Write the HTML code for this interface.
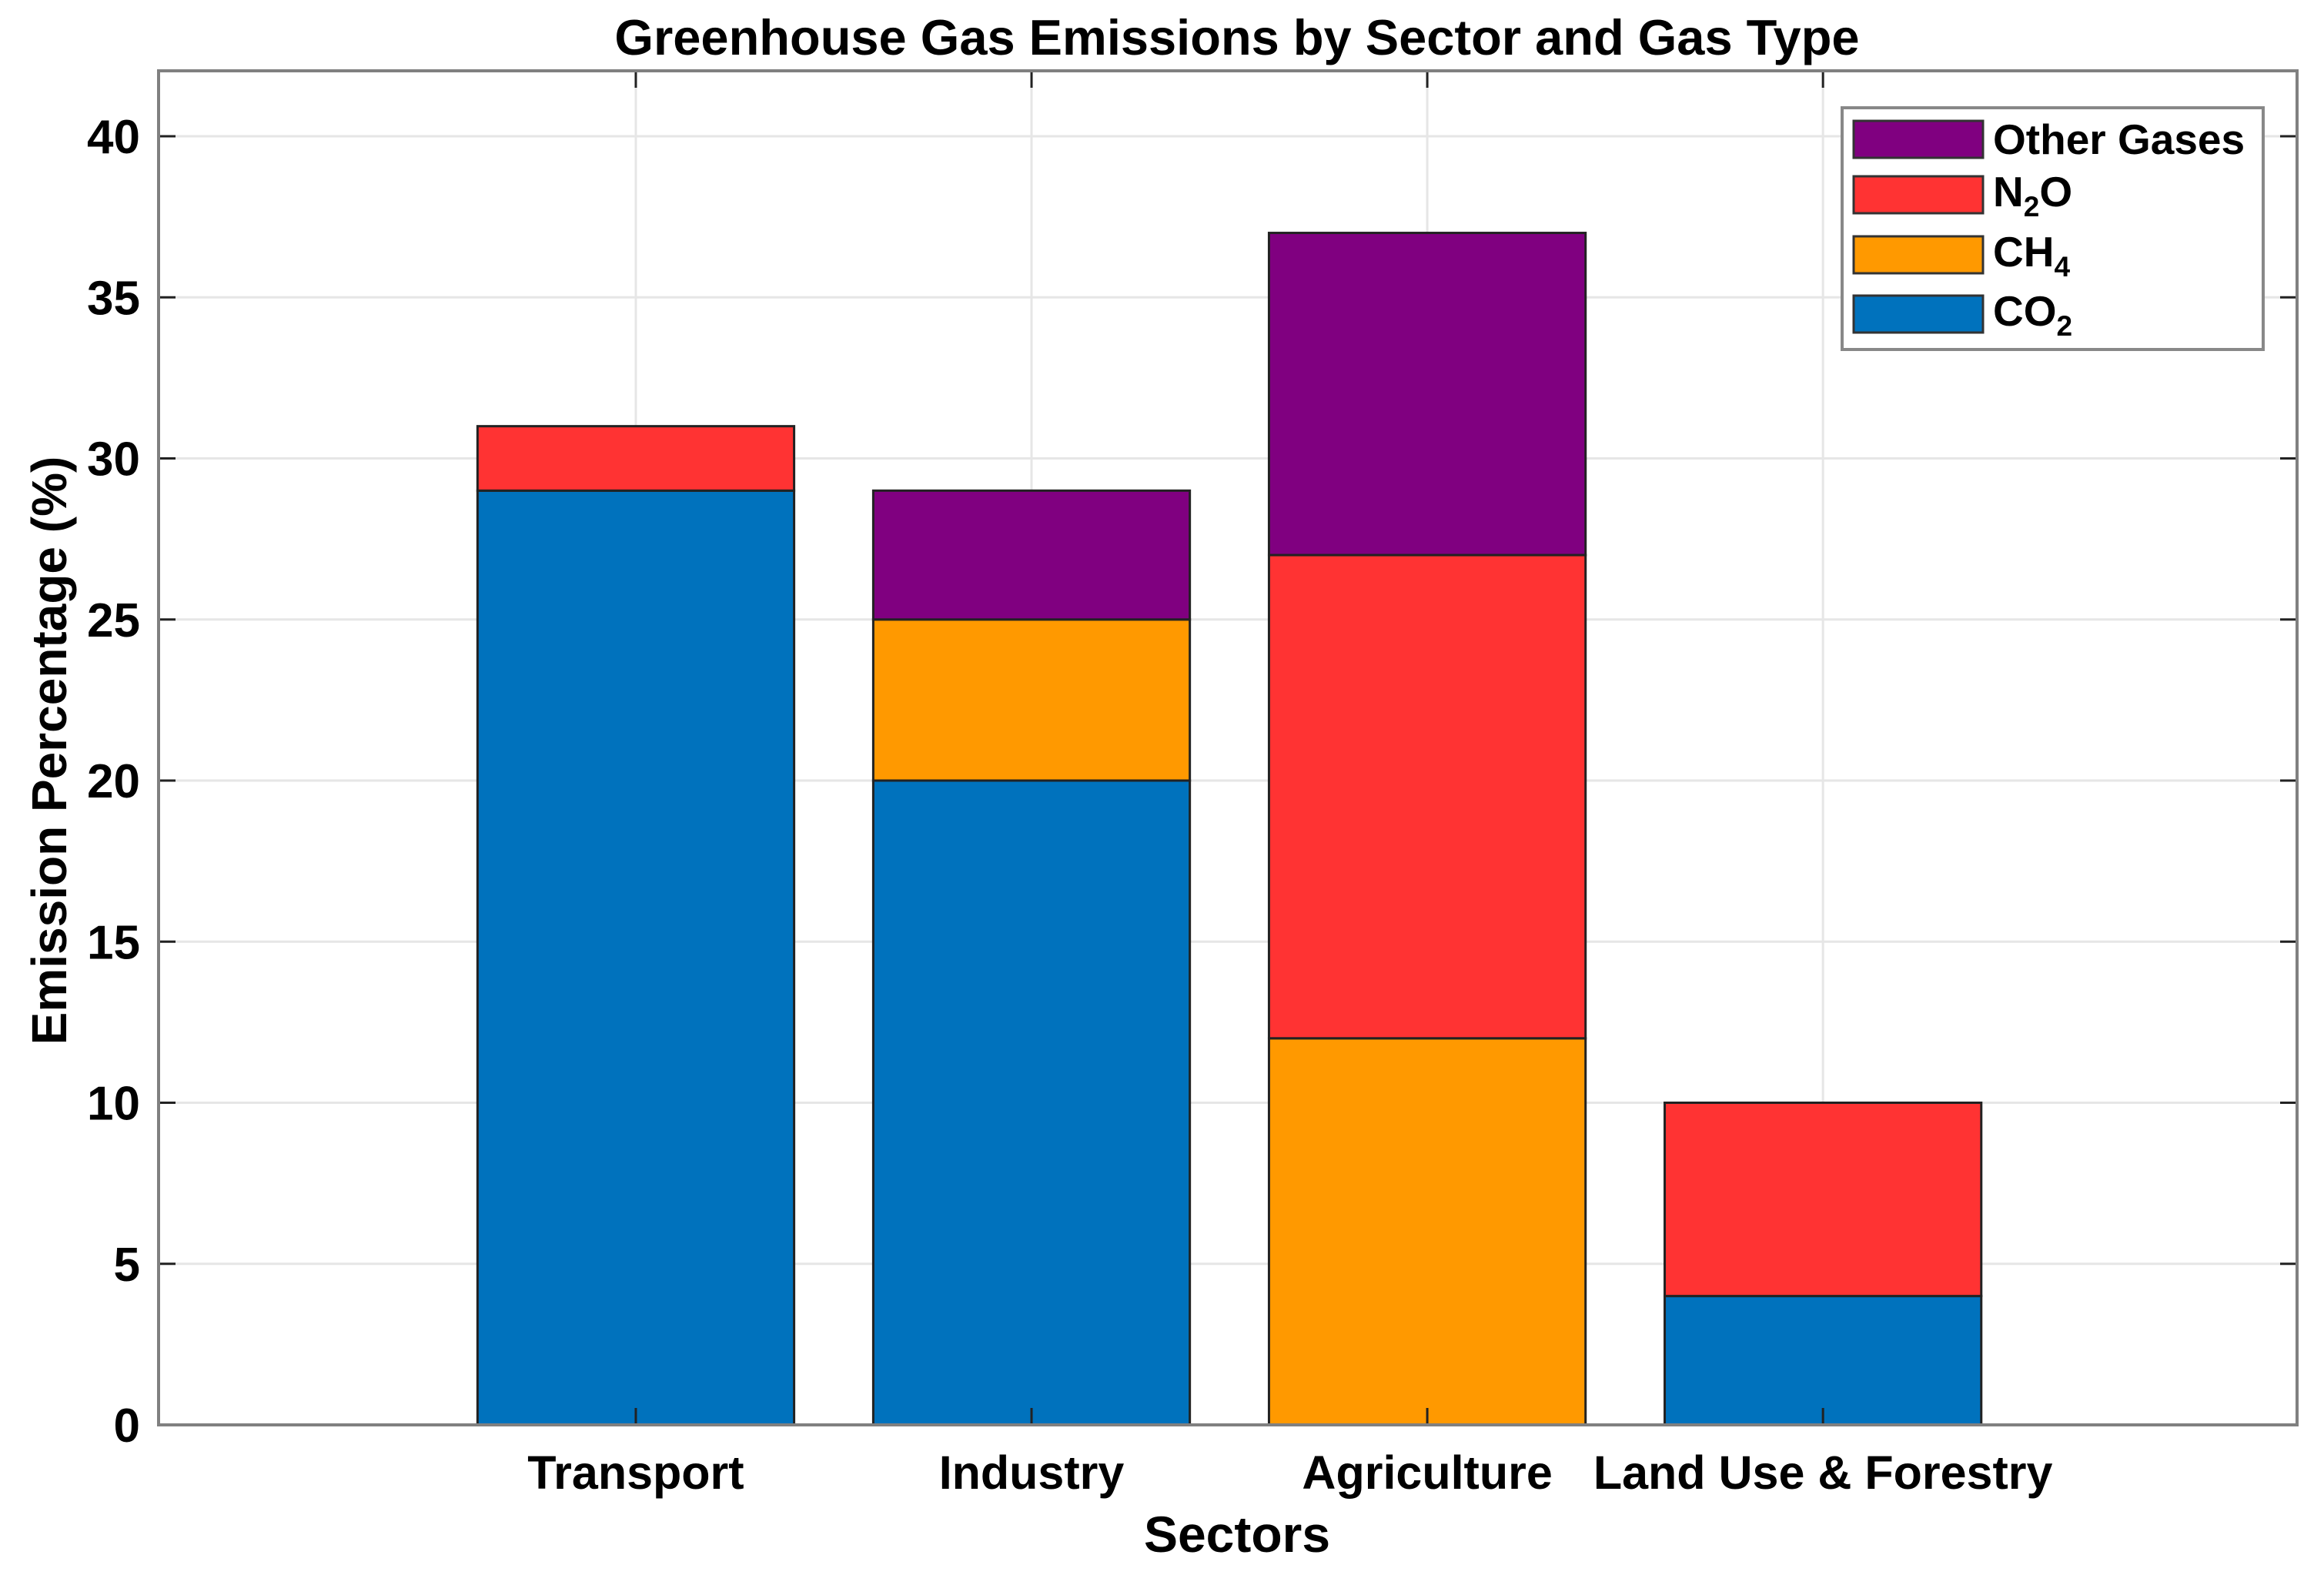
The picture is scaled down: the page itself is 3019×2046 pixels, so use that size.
<!DOCTYPE html>
<html><head><meta charset="utf-8"><style>
html,body{margin:0;padding:0;background:#fff;}
svg{display:block;font-family:"Liberation Sans",Arial,sans-serif;font-weight:bold;}
</style></head><body>
<svg id="chart" width="3019" height="2046" viewBox="0 0 3019 2046" xmlns="http://www.w3.org/2000/svg">
<rect x="0" y="0" width="3019" height="2046" fill="#fff"/>
<g id="grid"></g>
<g id="bars"></g>
<g id="axes"></g>
<text x="1607" y="71" font-size="65" text-anchor="middle">Greenhouse Gas Emissions by Sector and Gas Type</text>
<text x="1607" y="2016" font-size="66" text-anchor="middle">Sectors</text>
<text transform="translate(86,975) rotate(-90)" font-size="64" text-anchor="middle">Emission Percentage (%)</text>
<g>
<rect x="2393" y="140" width="547" height="314" fill="#fff" stroke="#888" stroke-width="4"/>
<rect x="2408" y="157" width="168" height="48" fill="#800080" stroke="#333" stroke-width="3"/>
<text x="2589" y="200" font-size="55">Other Gases</text>
<rect x="2408" y="229" width="168" height="48" fill="#FF3333" stroke="#333" stroke-width="3"/>
<text x="2589" y="268" font-size="55">N<tspan font-size="37" dy="13">2</tspan><tspan dy="-13">O</tspan></text>
<rect x="2408" y="307" width="168" height="48" fill="#FF9900" stroke="#333" stroke-width="3"/>
<text x="2589" y="346" font-size="55">CH<tspan font-size="37" dy="13">4</tspan></text>
<rect x="2408" y="384" width="168" height="48" fill="#0072BD" stroke="#333" stroke-width="3"/>
<text x="2589" y="423" font-size="55">CO<tspan font-size="37" dy="13">2</tspan></text>
</g>
</svg>
<script>
const categories = ["Transport", "Industry", "Agriculture", "Land Use & Forestry"];
const co2 = [29, 20, 0, 4];
const ch4 = [0, 5, 12, 0];
const n2o = [2, 0, 15, 6];
const other = [0, 4, 10, 0];
const yTicks = [0, 5, 10, 15, 20, 25, 30, 35, 40];

const NS = "http://www.w3.org/2000/svg";
const L = 206, R = 2984, T = 92, B = 1851;
const xMin = -0.206, xMax = 5.198, yMin = 0, yMax = 40;
const yTop40 = 177;
function xs(v){ return L + (v - xMin) / (xMax - xMin) * (R - L); }
function ys(v){ return B - (v - yMin) / (yMax - yMin) * (B - yTop40); }
function mk(tag, attrs, parent){
  const e = document.createElementNS(NS, tag);
  for (const k in attrs) e.setAttribute(k, attrs[k]);
  parent.appendChild(e);
  return e;
}
const grid = document.getElementById('grid');
const bars = document.getElementById('bars');
const axes = document.getElementById('axes');

yTicks.forEach(t => {
  const y = ys(t);
  const g = mk('line', {x1:L, x2:R, y1:y, y2:y, stroke:'#e6e6e6', 'stroke-width':3}, grid);
  
  
  const tk = mk('line', {x1:L, x2:L+22, y1:y, y2:y, stroke:'#222', 'stroke-width':3}, axes);
  
  
  const tk2 = mk('line', {x1:R-22, x2:R, y1:y, y2:y, stroke:'#222', 'stroke-width':3}, axes);
  
  
  const lb = mk('text', {x:L-24, y:y+22, 'font-size':62, 'text-anchor':'end'}, axes);
  lb.textContent = t;
  
  
});

categories.forEach((c, i) => {
  const x = xs(i + 1);
  const g = mk('line', {x1:x, x2:x, y1:T, y2:B, stroke:'#e6e6e6', 'stroke-width':3}, grid);
  
  
});

const series = [
  {name:'co2', vals:co2, color:'#0072BD'},
  {name:'ch4', vals:ch4, color:'#FF9900'},
  {name:'n2o', vals:n2o, color:'#FF3333'},
  {name:'other', vals:other, color:'#800080'}
];
const bw = 0.8;
categories.forEach((c, i) => {
  let base = 0;
  series.forEach(s => {
    const v = s.vals[i];
    if (v > 0) {
      const x0 = xs(i + 1 - bw/2), x1 = xs(i + 1 + bw/2);
      const r = mk('rect', {x:x0, y:ys(base + v), width:x1 - x0, height:ys(base) - ys(base + v), fill:s.color, stroke:'#222', 'stroke-width':3}, bars);
      
      
    }
    base += v;
  });
});

categories.forEach((c, i) => {
  const x = xs(i + 1);
  const tk = mk('line', {x1:x, x2:x, y1:B, y2:B-22, stroke:'#222', 'stroke-width':3}, axes);
  
  
  const tk2 = mk('line', {x1:x, x2:x, y1:T, y2:T+22, stroke:'#222', 'stroke-width':3}, axes);
  
  
  const lb = mk('text', {x:x, y:1934, 'font-size':61, 'text-anchor':'middle'}, axes);
  lb.textContent = c;
  
  
});

const frame = mk('rect', {x:L, y:T, width:R-L, height:B-T, fill:'none', stroke:'#808080', 'stroke-width':4}, axes);


</script>
</body></html>
